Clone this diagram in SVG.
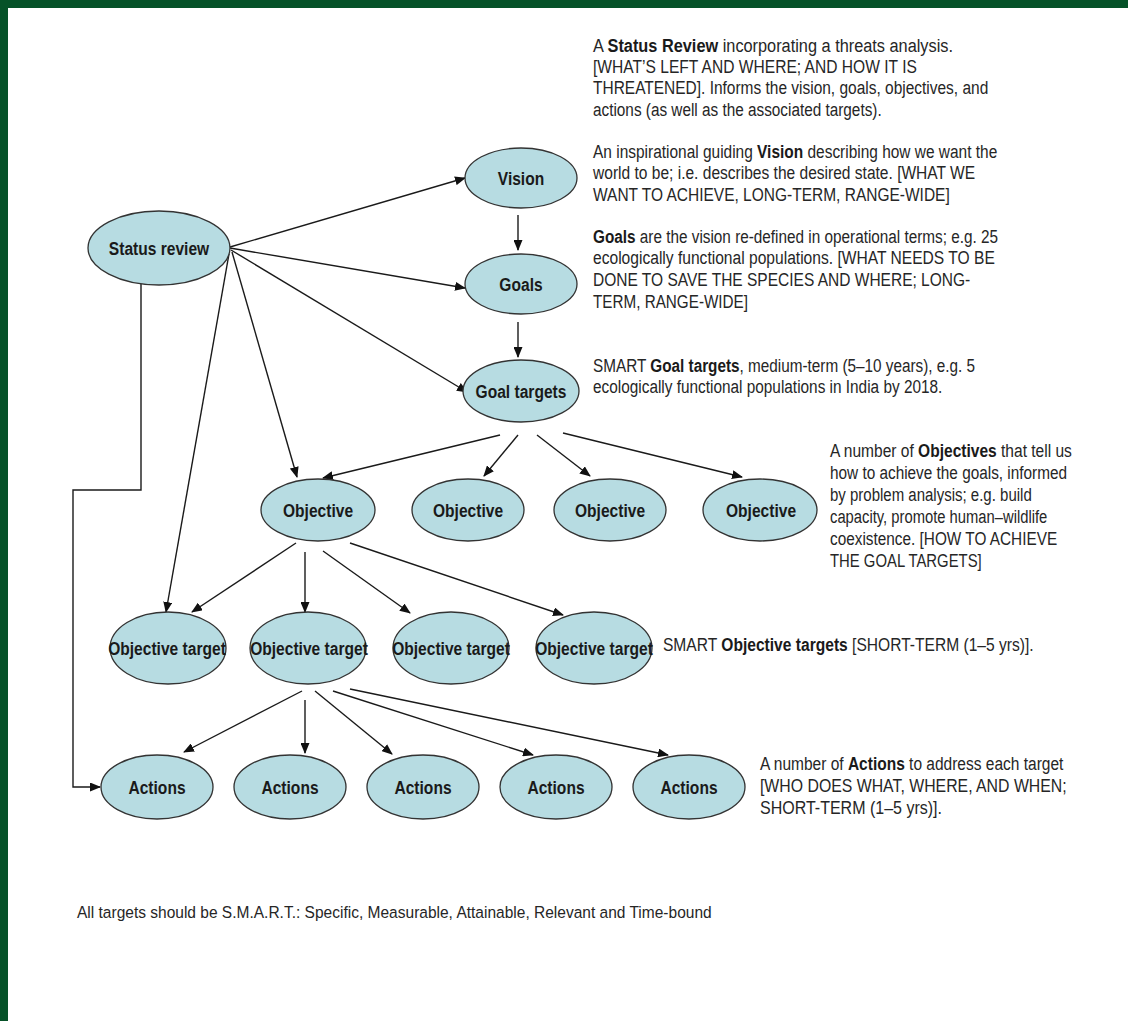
<svg xmlns="http://www.w3.org/2000/svg" width="1128" height="1021" viewBox="0 0 1128 1021">
<defs>
<marker id="ah" markerWidth="11" markerHeight="9" refX="10" refY="4.5" orient="auto" markerUnits="userSpaceOnUse">
<path d="M0,0 L11,4.5 L0,9 Z" fill="#111"/>
</marker>
<style>
.n ellipse{fill:#B7DCE2;stroke:#333;stroke-width:1.3}
.n text{font-family:"Liberation Sans",Arial,sans-serif;font-weight:bold;font-size:19px;fill:#1a1a1a;text-anchor:middle}
.c line,.c polyline{stroke:#1a1a1a;stroke-width:1.4;fill:none;marker-end:url(#ah)}
.d{font-family:"Liberation Sans",Arial,sans-serif;font-size:19px;fill:#262626}
.d tspan.b{font-weight:bold;fill:#1a1a1a}
.f{font-family:"Liberation Sans",Arial,sans-serif;font-size:16.5px;fill:#262626}
</style>
</defs>
<rect x="0" y="0" width="1128" height="1021" fill="#fff"/>
<rect x="0" y="0" width="1128" height="8" fill="#065228"/>
<rect x="0" y="0" width="8" height="1021" fill="#065228"/>

<g class="c" id="connectors">
<line x1="230" y1="247" x2="465" y2="178"/>
<line x1="230" y1="248" x2="465" y2="288"/>
<line x1="231" y1="250" x2="467" y2="392"/>
<line x1="232" y1="252" x2="297" y2="477"/>
<line x1="229" y1="254" x2="166" y2="612"/>
<polyline points="141,284 141,490 73,490 73,787 100,787"/>
<line x1="518" y1="215" x2="518" y2="250"/>
<line x1="518" y1="322" x2="518" y2="357"/>
<line x1="500" y1="435" x2="323" y2="478"/>
<line x1="518" y1="435" x2="484" y2="476"/>
<line x1="537" y1="435" x2="590" y2="476"/>
<line x1="563" y1="433" x2="742" y2="477"/>
<line x1="296" y1="543" x2="192" y2="612"/>
<line x1="305" y1="552" x2="305" y2="612"/>
<line x1="323" y1="551" x2="410" y2="613"/>
<line x1="350" y1="543" x2="563" y2="615"/>
<line x1="302" y1="691" x2="184" y2="752"/>
<line x1="305" y1="700" x2="305" y2="753"/>
<line x1="315" y1="691" x2="392" y2="754"/>
<line x1="333" y1="691" x2="533" y2="755"/>
<line x1="350" y1="689" x2="668" y2="755"/>
</g>

<g class="n" id="status-review"><ellipse cx="159" cy="248" rx="71" ry="37"/><text transform="translate(159,255) scale(0.82,1)">Status review</text></g>
<g class="n" id="vision"><ellipse cx="521" cy="178" rx="56" ry="30"/><text transform="translate(521,185) scale(0.82,1)">Vision</text></g>
<g class="n" id="goals"><ellipse cx="521" cy="284" rx="56" ry="30"/><text transform="translate(521,291) scale(0.82,1)">Goals</text></g>
<g class="n" id="goal-targets"><ellipse cx="521" cy="391" rx="58" ry="31"/><text transform="translate(521,398) scale(0.82,1)">Goal targets</text></g>

<g class="n" id="objective-1"><ellipse cx="318" cy="510" rx="57" ry="31"/><text transform="translate(318,517) scale(0.82,1)">Objective</text></g>
<g class="n" id="objective-2"><ellipse cx="468" cy="510" rx="56" ry="31"/><text transform="translate(468,517) scale(0.82,1)">Objective</text></g>
<g class="n" id="objective-3"><ellipse cx="610" cy="510" rx="56" ry="31"/><text transform="translate(610,517) scale(0.82,1)">Objective</text></g>
<g class="n" id="objective-4"><ellipse cx="760" cy="510" rx="57" ry="31"/><text transform="translate(761,517) scale(0.82,1)">Objective</text></g>

<g class="n" id="objective-target-1"><ellipse cx="168" cy="648" rx="58" ry="36"/><text transform="translate(167,655) scale(0.82,1)">Objective target</text></g>
<g class="n" id="objective-target-2"><ellipse cx="308" cy="648" rx="58" ry="36"/><text transform="translate(309,655) scale(0.82,1)">Objective target</text></g>
<g class="n" id="objective-target-3"><ellipse cx="451" cy="648" rx="58" ry="36"/><text transform="translate(451,655) scale(0.82,1)">Objective target</text></g>
<g class="n" id="objective-target-4"><ellipse cx="594" cy="648" rx="58" ry="36"/><text transform="translate(594,655) scale(0.82,1)">Objective target</text></g>

<g class="n" id="actions-1"><ellipse cx="157" cy="787" rx="56" ry="32"/><text transform="translate(157,794) scale(0.82,1)">Actions</text></g>
<g class="n" id="actions-2"><ellipse cx="290" cy="787" rx="56" ry="32"/><text transform="translate(290,794) scale(0.82,1)">Actions</text></g>
<g class="n" id="actions-3"><ellipse cx="423" cy="787" rx="56" ry="32"/><text transform="translate(423,794) scale(0.82,1)">Actions</text></g>
<g class="n" id="actions-4"><ellipse cx="556" cy="787" rx="56" ry="32"/><text transform="translate(556,794) scale(0.82,1)">Actions</text></g>
<g class="n" id="actions-5"><ellipse cx="689" cy="787" rx="56" ry="32"/><text transform="translate(689,794) scale(0.82,1)">Actions</text></g>

<g id="descriptions" transform="scale(0.82,1)">
<text class="d" x="723.2" y="52" textLength="439" lengthAdjust="spacingAndGlyphs">A <tspan class="b">Status Review</tspan> incorporating a threats analysis.</text>
<text class="d" x="723.2" y="73" textLength="395" lengthAdjust="spacingAndGlyphs">[WHAT’S LEFT AND WHERE; AND HOW IT IS</text>
<text class="d" x="723.2" y="94" textLength="482" lengthAdjust="spacingAndGlyphs">THREATENED].  Informs the vision, goals, objectives, and</text>
<text class="d" x="723.2" y="116" textLength="352" lengthAdjust="spacingAndGlyphs">actions (as well as the associated targets).</text>

<text class="d" x="723.2" y="158" textLength="493" lengthAdjust="spacingAndGlyphs">An inspirational guiding <tspan class="b">Vision</tspan> describing how we want the</text>
<text class="d" x="723.2" y="179" textLength="466" lengthAdjust="spacingAndGlyphs">world to be; i.e. describes the desired state. [WHAT WE</text>
<text class="d" x="723.2" y="201" textLength="435" lengthAdjust="spacingAndGlyphs">WANT TO ACHIEVE, LONG-TERM,  RANGE-WIDE]</text>

<text class="d" x="723.2" y="243" textLength="494" lengthAdjust="spacingAndGlyphs"><tspan class="b">Goals</tspan> are the vision re-defined  in operational terms; e.g. 25</text>
<text class="d" x="723.2" y="264" textLength="490" lengthAdjust="spacingAndGlyphs">ecologically functional  populations.  [WHAT NEEDS TO BE</text>
<text class="d" x="723.2" y="286" textLength="460" lengthAdjust="spacingAndGlyphs">DONE TO SAVE THE  SPECIES AND WHERE; LONG-</text>
<text class="d" x="723.2" y="308" textLength="189" lengthAdjust="spacingAndGlyphs">TERM, RANGE-WIDE]</text>

<text class="d" x="723.2" y="372" textLength="466" lengthAdjust="spacingAndGlyphs">SMART <tspan class="b">Goal targets</tspan>, medium-term  (5–10  years), e.g. 5</text>
<text class="d" x="723.2" y="393" textLength="426" lengthAdjust="spacingAndGlyphs">ecologically functional  populations  in India  by 2018.</text>

<text class="d" x="1012.2" y="457" textLength="295" lengthAdjust="spacingAndGlyphs">A number  of <tspan class="b">Objectives</tspan> that tell us</text>
<text class="d" x="1012.2" y="479" textLength="289" lengthAdjust="spacingAndGlyphs">how to achieve  the goals, informed</text>
<text class="d" x="1012.2" y="501" textLength="246" lengthAdjust="spacingAndGlyphs">by problem analysis; e.g. build</text>
<text class="d" x="1012.2" y="523" textLength="265" lengthAdjust="spacingAndGlyphs">capacity, promote human–wildlife</text>
<text class="d" x="1012.2" y="545" textLength="277" lengthAdjust="spacingAndGlyphs">coexistence. [HOW TO ACHIEVE</text>
<text class="d" x="1012.2" y="567" textLength="185" lengthAdjust="spacingAndGlyphs">THE GOAL TARGETS]</text>

<text class="d" x="808.5" y="651" textLength="452" lengthAdjust="spacingAndGlyphs">SMART <tspan class="b">Objective targets</tspan> [SHORT-TERM  (1–5 yrs)].</text>

<text class="d" x="926.8" y="770" textLength="370" lengthAdjust="spacingAndGlyphs">A number  of <tspan class="b">Actions</tspan> to address  each target</text>
<text class="d" x="926.8" y="792" textLength="374" lengthAdjust="spacingAndGlyphs">[WHO DOES WHAT,  WHERE, AND WHEN;</text>
<text class="d" x="926.8" y="814" textLength="222" lengthAdjust="spacingAndGlyphs">SHORT-TERM   (1–5 yrs)].</text>

<text class="f" x="93.9" y="918" textLength="774" lengthAdjust="spacingAndGlyphs">All targets  should be  S.M.A.R.T.: Specific, Measurable,  Attainable,  Relevant  and Time-bound</text>
</g>
</svg>
